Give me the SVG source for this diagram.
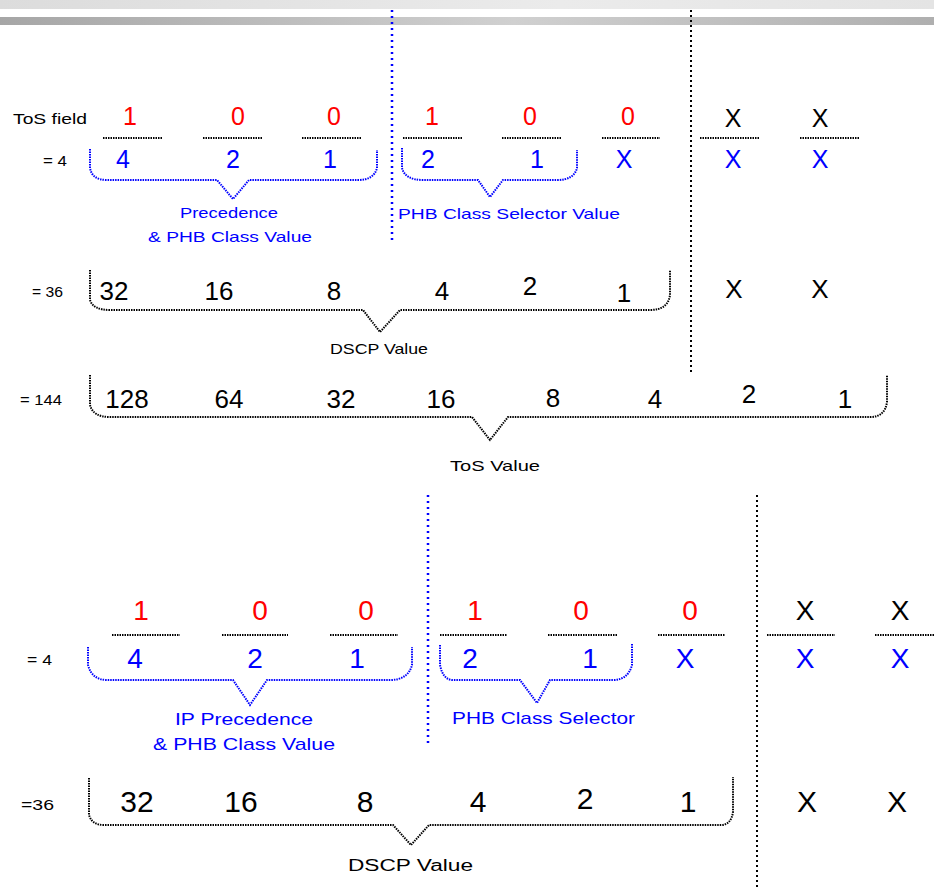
<svg xmlns="http://www.w3.org/2000/svg" width="934" height="888" viewBox="0 0 934 888">
  <defs>
    <linearGradient id="bandLight" x1="0" y1="0" x2="1" y2="0">
      <stop offset="0" stop-color="#dcdcdc"/>
      <stop offset="0.6" stop-color="#ebebeb"/>
      <stop offset="1" stop-color="#e4e4e4"/>
    </linearGradient>
    <linearGradient id="bandDark" x1="0" y1="0" x2="1" y2="0">
      <stop offset="0" stop-color="#a6a6a6"/>
      <stop offset="0.55" stop-color="#d0d0d0"/>
      <stop offset="1" stop-color="#afafaf"/>
    </linearGradient>
  </defs>
  <style>
    text { font-family: "Liberation Sans", Arial, sans-serif; }
    .lbl { font-size: 14px; fill: #000; }
    .blbl { font-size: 15px; fill: #0000ff; }
    .blbl2 { font-size: 17px; fill: #0000ff; }
    .klbl { font-size: 15px; fill: #000; }
    .klbl2 { font-size: 16px; fill: #000; }
    .red { font-size: 25px; fill: #ff0000; text-anchor: middle; }
    .blue { font-size: 25px; fill: #0000ff; text-anchor: middle; }
    .blk { font-size: 25px; fill: #000; text-anchor: middle; }
    .red2 { font-size: 28px; fill: #ff0000; text-anchor: middle; }
    .blue2 { font-size: 28px; fill: #0000ff; text-anchor: middle; }
    .blk2 { font-size: 28px; fill: #000; text-anchor: middle; }
    .num { font-size: 26px; fill: #000; text-anchor: middle; }
    .num2 { font-size: 30px; fill: #000; text-anchor: middle; }
    .ul { stroke: #000; stroke-width: 2; stroke-dasharray: 1.5 1; fill: none; }
    .sepB { stroke: #0000ff; stroke-width: 2.5; stroke-dasharray: 2 4; fill: none; }
    .sepK { stroke: #000; stroke-width: 2; stroke-dasharray: 2 3; fill: none; }
    .braceB { stroke: #0000ff; stroke-width: 2; stroke-dasharray: 1.5 1; fill: none; }
    .braceK { stroke: #000; stroke-width: 2; stroke-dasharray: 1.5 1; fill: none; }
  </style>

  <!-- title bands -->
  <g id="header">
    <rect x="0" y="0" width="934" height="9" fill="url(#bandLight)"/>
    <rect x="0" y="17" width="934" height="8" fill="url(#bandDark)"/>
  </g>

  <!-- field separators -->
  <g id="separators">
    <line class="sepB" x1="392" y1="10" x2="392" y2="242"/>
    <line class="sepK" x1="691" y1="10" x2="691" y2="372"/>
    <line class="sepB" x1="428" y1="495" x2="428" y2="747"/>
    <line class="sepK" x1="757" y1="495" x2="757" y2="888"/>
  </g>

  <!-- upper example: ToS byte -->
  <g id="tos-bits">
    <text class="lbl" x="13" y="124" textLength="74" lengthAdjust="spacingAndGlyphs">ToS field</text>
    <text class="red" x="130" y="125">1</text>
    <text class="red" x="238" y="125">0</text>
    <text class="red" x="334" y="125">0</text>
    <text class="red" x="432" y="125">1</text>
    <text class="red" x="530" y="125">0</text>
    <text class="red" x="628" y="125">0</text>
    <text class="blk" x="733" y="127">X</text>
    <text class="blk" x="820" y="127">X</text>
    <path class="ul" d="M103 138H163M203 138H263M302 138H362M403 138H462M502 138H562M602 138H660M700 138H760M800 138H860"/>
    <text class="lbl" x="43" y="166" textLength="24" lengthAdjust="spacingAndGlyphs">= 4</text>
    <text class="blue" x="123" y="168">4</text>
    <text class="blue" x="233" y="168">2</text>
    <text class="blue" x="330" y="168">1</text>
    <text class="blue" x="428" y="168">2</text>
    <text class="blue" x="537" y="168">1</text>
    <text class="blue" x="624" y="168">X</text>
    <text class="blue" x="733" y="168">X</text>
    <text class="blue" x="820" y="168">X</text>
  </g>
  <g id="tos-prec-label">
    <text class="blbl" x="229" y="218" text-anchor="middle" textLength="98" lengthAdjust="spacingAndGlyphs">Precedence</text>
    <text class="blbl" x="230" y="242" text-anchor="middle" textLength="164" lengthAdjust="spacingAndGlyphs">&amp; PHB Class Value</text>
  </g>
  <g id="tos-cs-label">
    <text class="blbl" x="398" y="219" textLength="222" lengthAdjust="spacingAndGlyphs">PHB Class Selector Value</text>
  </g>

  <g id="dscp-row">
    <text class="lbl" x="32" y="297" textLength="31" lengthAdjust="spacingAndGlyphs">= 36</text>
    <text class="num" x="114" y="300">32</text>
    <text class="num" x="219" y="300">16</text>
    <text class="num" x="334" y="300">8</text>
    <text class="num" x="442" y="300">4</text>
    <text class="num" x="530" y="295">2</text>
    <text class="num" x="624" y="302">1</text>
    <text class="num" x="734" y="298">X</text>
    <text class="num" x="820" y="298">X</text>
    <text class="klbl" x="330" y="354" textLength="98" lengthAdjust="spacingAndGlyphs">DSCP Value</text>
  </g>

  <g id="tos-row">
    <text class="lbl" x="20" y="405" textLength="42" lengthAdjust="spacingAndGlyphs">= 144</text>
    <text class="num" x="127" y="408">128</text>
    <text class="num" x="229" y="408">64</text>
    <text class="num" x="341" y="408">32</text>
    <text class="num" x="441" y="408">16</text>
    <text class="num" x="553" y="407">8</text>
    <text class="num" x="655" y="408">4</text>
    <text class="num" x="749" y="403">2</text>
    <text class="num" x="845" y="408">1</text>
    <text class="klbl" x="450" y="471" textLength="90" lengthAdjust="spacingAndGlyphs">ToS Value</text>
  </g>

  <!-- lower example: DS field -->
  <g id="ds-bits">
    <text class="red2" x="141" y="620">1</text>
    <text class="red2" x="260" y="620">0</text>
    <text class="red2" x="366" y="620">0</text>
    <text class="red2" x="475" y="620">1</text>
    <text class="red2" x="581" y="620">0</text>
    <text class="red2" x="690" y="620">0</text>
    <text class="blk2" x="805" y="620">X</text>
    <text class="blk2" x="900" y="620">X</text>
    <path class="ul" d="M112 635H180M222 635H288M330 635H398M440 635H507M548 635H617M658 635H725M767 635H835M875 635H943"/>
    <text class="lbl" x="27" y="665" textLength="25" lengthAdjust="spacingAndGlyphs">= 4</text>
    <text class="blue2" x="135" y="668">4</text>
    <text class="blue2" x="255" y="668">2</text>
    <text class="blue2" x="357" y="668">1</text>
    <text class="blue2" x="470" y="668">2</text>
    <text class="blue2" x="590" y="668">1</text>
    <text class="blue2" x="685" y="668">X</text>
    <text class="blue2" x="805" y="668">X</text>
    <text class="blue2" x="900" y="668">X</text>
  </g>
  <g id="ds-prec-label">
    <text class="blbl2" x="244" y="725" text-anchor="middle" textLength="138" lengthAdjust="spacingAndGlyphs">IP Precedence</text>
    <text class="blbl2" x="244" y="750" text-anchor="middle" textLength="182" lengthAdjust="spacingAndGlyphs">&amp; PHB Class Value</text>
  </g>
  <g id="ds-cs-label">
    <text class="blbl2" x="452" y="724" textLength="183" lengthAdjust="spacingAndGlyphs">PHB Class Selector</text>
  </g>

  <g id="ds-dscp-row">
    <text class="lbl" x="21" y="810" textLength="33" lengthAdjust="spacingAndGlyphs">=36</text>
    <text class="num2" x="137" y="812">32</text>
    <text class="num2" x="241" y="812">16</text>
    <text class="num2" x="365" y="812">8</text>
    <text class="num2" x="478" y="812">4</text>
    <text class="num2" x="585" y="809">2</text>
    <text class="num2" x="688" y="812">1</text>
    <text class="num2" x="807" y="812">X</text>
    <text class="num2" x="897" y="812">X</text>
    <text class="klbl2" x="348" y="871" textLength="125" lengthAdjust="spacingAndGlyphs">DSCP Value</text>
  </g>

  <!-- braces grouping the bits -->
  <g id="connectors">
    <path class="braceB" d="M90 149V168Q92 180 107 180H217L233 199L249 180H358Q374 180 377 168V150"/>
    <path class="braceB" d="M402 148V168Q405 180 423 180H478L490 197L503 180H557Q574 180 577 168V150"/>
    <path class="braceK" d="M90 270V300Q93 310 110 310H363L380 332L400 310H650Q668 310 670 295V270"/>
    <path class="braceK" d="M90 375V405Q93 417 110 417H472L490 440L508 417H870Q885 417 887 402V375"/>
    <path class="braceB" d="M88 647V665Q92 680 107 680H233L250 705L267 680H390Q408 680 412 665V647"/>
    <path class="braceB" d="M440 645V665Q443 680 453 680H520L537 703L550 680H613Q628 680 632 665V643"/>
    <path class="braceK" d="M89 778V815Q92 825 104 825H393L411 845L429 825H721Q731 825 733 812V777"/>
  </g>
</svg>
